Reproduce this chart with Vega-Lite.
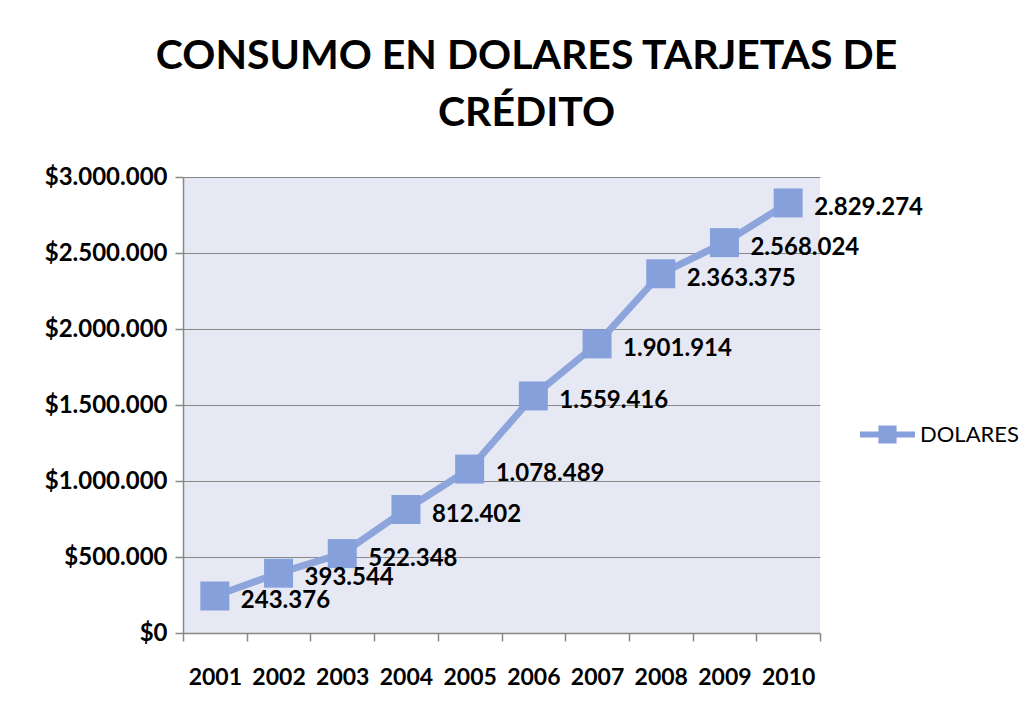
{
  "$schema": "https://vega.github.io/schema/vega-lite/v6.json",
  "width": 637,
  "height": 456,
  "autosize": {"type": "none"},
  "padding": {"left": 183, "top": 177, "right": 212, "bottom": 84},
  "background": "white",
  "config": {
    "locale": {"number": {"decimal": ",", "thousands": ".", "grouping": [3], "currency": ["$", ""]}},
    "font": "Lato",
    "view": {"fill": "#E6E9F4", "stroke": null}
  },
  "title": {
    "text": ["CONSUMO EN DOLARES TARJETAS DE", "CRÉDITO"],
    "font": "Lato",
    "fontSize": 41,
    "fontWeight": "bold",
    "color": "#000000",
    "lineHeight": 57,
    "anchor": "middle",
    "frame": "group",
    "dx": 25,
    "offset": 30
  },
  "data": {
    "values": [
      {"year": "2001", "value": 243376, "serie": "DOLARES"},
      {"year": "2002", "value": 393544, "serie": "DOLARES"},
      {"year": "2003", "value": 522348, "serie": "DOLARES"},
      {"year": "2004", "value": 812402, "serie": "DOLARES"},
      {"year": "2005", "value": 1078489, "serie": "DOLARES"},
      {"year": "2006", "value": 1559416, "serie": "DOLARES"},
      {"year": "2007", "value": 1901914, "serie": "DOLARES"},
      {"year": "2008", "value": 2363375, "serie": "DOLARES"},
      {"year": "2009", "value": 2568024, "serie": "DOLARES"},
      {"year": "2010", "value": 2829274, "serie": "DOLARES"}
    ]
  },
  "encoding": {
    "x": {
      "field": "year",
      "type": "ordinal",
      "scale": {"paddingInner": 0, "paddingOuter": 0},
      "axis": {
        "title": null,
        "labelAngle": 0,
        "labelFont": "Lato",
        "labelFontSize": 23,
        "labelFontWeight": "bold",
        "labelColor": "#000000",
        "labelPadding": 25,
        "tickBand": "extent",
        "tickSize": 8,
        "tickColor": "#888888",
        "domainColor": "#888888",
        "domainWidth": 1.5,
        "tickWidth": 1.5,
        "grid": false
      }
    },
    "y": {
      "field": "value",
      "type": "quantitative",
      "scale": {"domain": [0, 3000000], "nice": false},
      "axis": {
        "title": null,
        "values": [0, 500000, 1000000, 1500000, 2000000, 2500000, 3000000],
        "format": "$,.0f",
        "labelFont": "Lato",
        "labelFontSize": 24,
        "labelFontWeight": "bold",
        "labelColor": "#000000",
        "labelPadding": 8,
        "tickSize": 8,
        "tickColor": "#888888",
        "tickWidth": 1.5,
        "domainColor": "#888888",
        "domainWidth": 1.5,
        "gridColor": "#888888",
        "gridWidth": 1.2
      }
    }
  },
  "layer": [
    {
      "mark": {"type": "line", "color": "#8DA5DB", "strokeWidth": 7, "strokeCap": "round", "strokeJoin": "round"},
      "encoding": {}
    },
    {
      "mark": {"type": "point", "shape": "square", "filled": true, "size": 840, "opacity": 1},
      "encoding": {
        "color": {
          "field": "serie",
          "type": "nominal",
          "scale": {"range": ["#86A0DC"]},
          "legend": {
            "title": null,
            "orient": "none",
            "legendX": 677,
            "legendY": 230,
            "symbolType": "M-1,-0.11H-0.33V-0.33H0.33V-0.11H1V0.11H0.33V0.33H-0.33V0.11H-1Z",
            "symbolSize": 3025,
            "symbolStrokeWidth": 0,
            "symbolOpacity": 1,
            "labelFont": "Lato",
            "labelFontSize": 22,
            "labelColor": "#000000",
            "labelOffset": 5
          }
        }
      }
    },
    {
      "mark": {"type": "text", "align": "left", "baseline": "middle", "dx": 26, "dy": 5, "font": "Lato", "fontSize": 24, "fontWeight": "bold", "color": "#000000"},
      "encoding": {
        "text": {"field": "value", "type": "quantitative", "format": ",.0f"}
      }
    }
  ]
}
